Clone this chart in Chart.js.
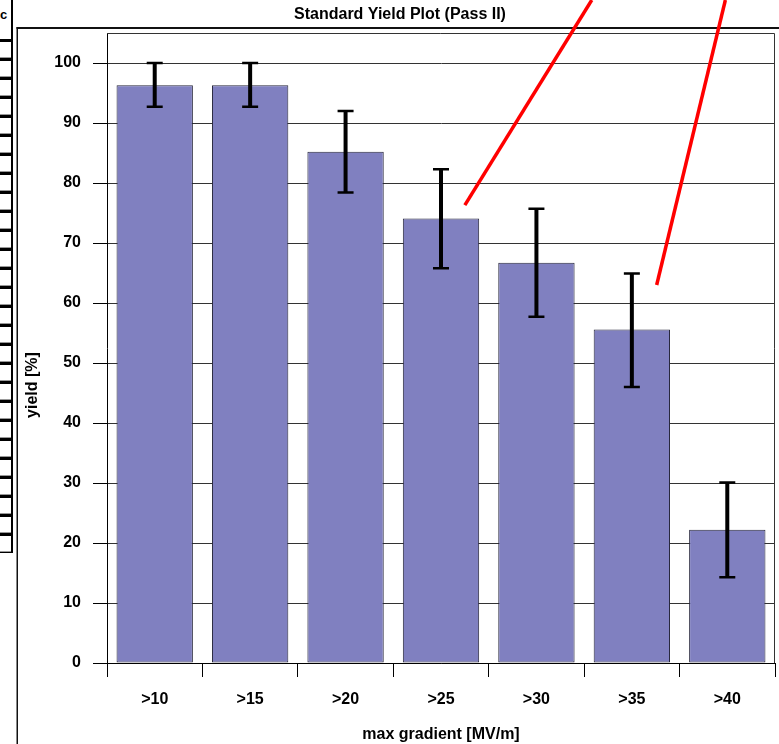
<!DOCTYPE html>
<html>
<head>
<meta charset="utf-8">
<title>Standard Yield Plot (Pass II)</title>
<script src="https://cdn.jsdelivr.net/npm/chart.js@4/dist/chart.umd.min.js"></script>
<style>
  html, body { margin: 0; padding: 0; background: #fff; }
  #wrap { position: relative; width: 779px; height: 744px; overflow: hidden; }
  #wrap canvas { position: absolute; left: 0; top: 0; }
  #sheet { position: absolute; left: 0; top: 0; width: 14px; }
  #sheet .hdr, #sheet .row {
    position: absolute; left: -6px; width: 19px; box-sizing: border-box;
    border: 2px solid #000; border-bottom-width: 1px;
    background: #fff;
  }
  #sheet .row { box-shadow: inset 0 -1px 0 #999; }
  #sheet .hdr { top: -4px; height: 44px; font: bold 13px "Liberation Sans", Arial, sans-serif; }
  #sheet .hdr span { position: absolute; left: 4px; top: 9px; }
</style>
</head>
<body>
<div id="wrap">
  <canvas id="chart" width="779" height="744"></canvas>
  <div id="sheet"><div class="hdr"><span>c</span></div></div>
</div>
<script>
// Yield per gradient threshold, with error-bar limits
const categories = ['>10', '>15', '>20', '>25', '>30', '>35', '>40'];
const yieldPct   = [96.3, 96.3, 85.2, 74.1, 66.7, 55.6, 22.2];
const errUpper   = [100.0, 100.0, 92.0, 82.3, 75.7, 64.9, 30.1];
const errLower   = [92.7, 92.7, 78.4, 65.8, 57.7, 46.0, 14.3];
const yTicks     = [0, 10, 20, 30, 40, 50, 60, 70, 80, 90, 100];
const sheetRows  = 27;

// Red pointer lines, given as [category index, yield] pairs
const pointerLines = [
  [[3.25, 76.3], [4.58, 110.5]],
  [[5.26, 63.0], [5.98, 110.5]]
];

const FONT = '"Liberation Sans", Arial, Helvetica, sans-serif';

// side table rows
(function buildSheet() {
  const sheet = document.getElementById('sheet');
  for (let i = 0; i < sheetRows; i++) {
    const r = document.createElement('div');
    r.className = 'row';
    r.style.top = (40 + i * 19) + 'px';
    r.style.height = '19px';
    sheet.appendChild(r);
  }
})();

const framePlugin = {
  id: 'frame',
  beforeDraw(chart) {
    const c = chart.ctx;
    c.save();
    c.fillStyle = '#fff';
    c.fillRect(0, 0, chart.width, chart.height);
    c.fillStyle = '#111';
    c.fillRect(16.5, 27, chart.width - 16.5, 2);
    c.fillRect(16.5, 27, 1.5, chart.height - 27);
    c.restore();
  },
  beforeDatasetsDraw(chart) {
    const a = chart.chartArea, c = chart.ctx;
    c.save();
    c.strokeStyle = '#333';
    c.lineWidth = 1;
    c.beginPath();
    c.moveTo(a.left, a.top + 0.5);
    c.lineTo(a.right - 0.5, a.top + 0.5);
    c.lineTo(a.right - 0.5, a.bottom);
    c.stroke();
    c.restore();
  }
};

const errorBarPlugin = {
  id: 'errorBars',
  afterDatasetsDraw(chart) {
    const c = chart.ctx, x = chart.scales.x, y = chart.scales.y;
    c.save();
    c.strokeStyle = '#000';
    categories.forEach((_, i) => {
      const px = x.getPixelForValue(i);
      const yHi = y.getPixelForValue(errUpper[i]);
      const yLo = y.getPixelForValue(errLower[i]);
      c.lineWidth = 4;
      c.beginPath();
      c.moveTo(px, yHi);
      c.lineTo(px, yLo);
      c.stroke();
      c.lineWidth = 2.5;
      c.beginPath();
      c.moveTo(px - 8, yHi); c.lineTo(px + 8, yHi);
      c.moveTo(px - 8, yLo); c.lineTo(px + 8, yLo);
      c.stroke();
    });
    c.restore();
  }
};

const overlayPlugin = {
  id: 'overlay',
  afterDraw(chart) {
    const c = chart.ctx, x = chart.scales.x, y = chart.scales.y;
    c.save();
    // vertical axis title
    c.fillStyle = '#000';
    c.font = 'bold 16px ' + FONT;
    c.textAlign = 'center';
    c.textBaseline = 'middle';
    c.translate(33, 385);
    c.rotate(-Math.PI / 2);
    c.fillText('yield [%]', 0, 0);
    c.restore();

    c.save();
    c.strokeStyle = '#ff0000';
    c.lineWidth = 3.5;
    c.lineCap = 'butt';
    pointerLines.forEach(seg => {
      c.beginPath();
      c.moveTo(x.getPixelForValue(seg[0][0]), y.getPixelForValue(seg[0][1]));
      c.lineTo(x.getPixelForValue(seg[1][0]), y.getPixelForValue(seg[1][1]));
      c.stroke();
    });
    c.restore();
  }
};

new Chart(document.getElementById('chart'), {
  type: 'bar',
  data: {
    labels: categories,
    datasets: [{
      data: yieldPct,
      backgroundColor: '#8080C0',
      borderColor: '#26263a',
      borderWidth: 1,
      borderSkipped: false,
      categoryPercentage: 1.0,
      barPercentage: 0.8
    }]
  },
  options: {
    responsive: false,
    animation: false,
    devicePixelRatio: 1,
    layout: { padding: { left: 25, right: 4, top: 0, bottom: 0 } },
    plugins: {
      legend: { display: false },
      tooltip: { enabled: false },
      title: {
        display: true,
        text: 'Standard Yield Plot (Pass II)',
        color: '#000',
        font: { family: FONT, size: 16, weight: 'bold' },
        padding: { top: 5.4, bottom: 8.4 }
      }
    },
    scales: {
      x: {
        grid: { offset: true, drawOnChartArea: false, drawTicks: true, tickLength: 14, color: '#000', tickColor: '#000', lineWidth: 1 },
        border: { display: true, color: '#000', width: 1 },
        ticks: { color: '#000', font: { family: FONT, size: 16, weight: 'bold' }, padding: 13, maxRotation: 0 },
        title: {
          display: true,
          text: 'max gradient [MV/m]',
          color: '#000',
          font: { family: FONT, size: 16, weight: 'bold' },
          padding: { top: 0, bottom: 0 }
        },
        afterFit(scale) { scale.height = 81; }
      },
      y: {
        min: 0,
        max: 105,
        grid: { color: '#333', tickColor: '#000', lineWidth: 1, drawTicks: true, tickLength: 14 },
        border: { display: true, color: '#000', width: 1 },
        ticks: { color: '#000', font: { family: FONT, size: 16, weight: 'bold' }, padding: 12 },
        afterBuildTicks(scale) { scale.ticks = yTicks.map(v => ({ value: v })); },
        afterFit(scale) { scale.width = 82; }
      }
    }
  },
  plugins: [framePlugin, errorBarPlugin, overlayPlugin]
});
</script>
</body>
</html>
